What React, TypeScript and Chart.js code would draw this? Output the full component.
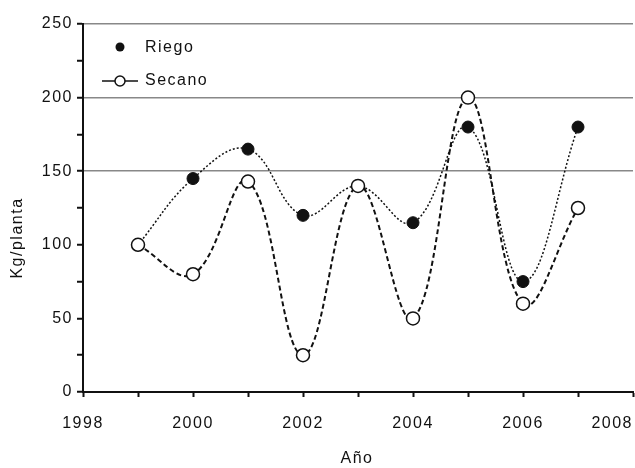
import React, { useEffect, useRef } from "react";
import { Chart, registerables } from "chart.js";

Chart.register(...registerables);

const years = [1999, 2000, 2001, 2002, 2003, 2004, 2005, 2006, 2007];
const riego = [100, 145, 165, 120, 140, 115, 180, 75, 180];
const secano = [100, 80, 143, 25, 140, 50, 200, 60, 125];
const seriesNames = ["Riego", "Secano"];
const yTitle = "Kg/planta";
const xTitle = "Año";

const FONT = "'Liberation Sans', Arial, sans-serif";

const spacing = {
  id: "spacing",
  beforeDraw(chart: any) {
    chart.ctx.letterSpacing = "1.5px";
  },
};

const overlay = {
  id: "overlay",
  afterDraw(chart: any) {
    const ctx = chart.ctx;
    const area = chart.chartArea;
    ctx.save();
    ctx.letterSpacing = "1.5px";
    ctx.fillStyle = "#111";
    ctx.font = `16px ${FONT}`;
    ctx.textBaseline = "middle";
    ctx.textAlign = "left";
    // legend
    const lx = area.left + 37;
    const ly1 = area.top + 23;
    const ly2 = area.top + 57;
    ctx.beginPath();
    ctx.arc(lx, ly1, 4.5, 0, Math.PI * 2);
    ctx.fill();
    ctx.fillText(seriesNames[0], lx + 25, ly1 + 1);
    ctx.strokeStyle = "#111";
    ctx.lineWidth = 1.5;
    ctx.beginPath();
    ctx.moveTo(lx - 18, ly2);
    ctx.lineTo(lx + 18, ly2);
    ctx.stroke();
    ctx.beginPath();
    ctx.fillStyle = "#fff";
    ctx.arc(lx, ly2, 5, 0, Math.PI * 2);
    ctx.fill();
    ctx.stroke();
    ctx.fillStyle = "#111";
    ctx.fillText(seriesNames[1], lx + 25, ly2);
    // axis titles
    ctx.textAlign = "center";
    ctx.fillText(xTitle, 357, 459);
    ctx.translate(18, 238);
    ctx.rotate(-Math.PI / 2);
    ctx.fillText(yTitle, 0, 0);
    ctx.restore();
  },
};

export default function App() {
  const ref = useRef<HTMLCanvasElement>(null);
  useEffect(() => {
    const chart = new Chart(ref.current!, {
      type: "line",
      data: {
        datasets: [
          {
            label: seriesNames[0],
            data: years.map((y, i) => ({ x: y, y: riego[i] })),
            borderColor: "#111",
            borderWidth: 1.5,
            borderDash: [2, 2],
            tension: 0.4,
            pointRadius: 6,
            pointBackgroundColor: "#111",
            pointBorderColor: "#111",
            pointBorderWidth: 1,
            fill: false,
            order: 1,
          },
          {
            label: seriesNames[1],
            data: years.map((y, i) => ({ x: y, y: secano[i] })),
            borderColor: "#111",
            borderWidth: 2,
            borderDash: [5, 3],
            tension: 0.4,
            pointRadius: 6.5,
            pointBackgroundColor: "#fff",
            pointBorderColor: "#111",
            pointBorderWidth: 1.5,
            fill: false,
            order: 0,
          },
        ],
      },
      options: {
        animation: false,
        responsive: false,
        maintainAspectRatio: false,
        layout: { padding: { top: 24, right: 2, left: 0, bottom: 0 }, autoPadding: false } as any,
        plugins: { legend: { display: false }, tooltip: { enabled: false } },
        scales: {
          x: {
            type: "linear",
            min: 1998,
            max: 2008,
            ticks: {
              stepSize: 1,
              autoSkip: false,
              maxRotation: 0,
              padding: 17,
              color: "#111",
              font: { family: FONT, size: 16 },
              callback: (v: any) => {
                const n = Number(v);
                if (n % 2 !== 0) return "";
                return n === 2008 ? String(v) + "       " : String(v);
              },
            },
            grid: {
              drawOnChartArea: false,
              tickLength: 5,
              tickColor: "#111",
              tickWidth: 2,
            },
            border: { color: "#111", width: 2 },
            afterFit: (s: any) => {
              s.height = 76;
              s.paddingLeft = 0;
              s.paddingRight = 0;
            },
          },
          y: {
            min: 0,
            max: 250,
            ticks: {
              stepSize: 25,
              autoSkip: false,
              padding: 4,
              color: "#111",
              font: { family: FONT, size: 16 },
              callback: (v: any) => (Number(v) % 50 === 0 ? String(v) : ""),
            },
            grid: {
              color: (c: any) =>
                c.tick && c.tick.value >= 150 && c.tick.value % 50 === 0 ? "#888" : "rgba(0,0,0,0)",
              lineWidth: 1.5,
              tickLength: 6,
              tickColor: "#111",
              tickWidth: 2,
            },
            border: { color: "#111", width: 2 },
            afterFit: (s: any) => {
              s.width = 83;
              s.paddingTop = 0;
              s.paddingBottom = 0;
            },
          },
        },
      },
      plugins: [spacing, overlay],
    });
    return () => chart.destroy();
  }, []);
  return (
    <div style={{ position: "fixed", left: 0, top: 0, width: 635, height: 468, background: "#fff" }}>
      <canvas ref={ref} width={635} height={468} />
    </div>
  );
}
